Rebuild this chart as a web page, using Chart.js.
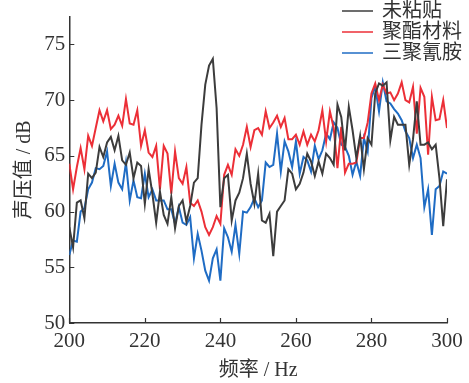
<!DOCTYPE html>
<html>
<head>
<meta charset="utf-8">
<script src="https://cdn.jsdelivr.net/npm/chart.js@4/dist/chart.umd.min.js"></script>
<style>
  html, body { margin: 0; padding: 0; background: #fff; }
  #wrap { width: 469px; height: 383px; }
</style>
</head>
<body>
<div id="wrap"><canvas id="chart" width="469" height="383"></canvas></div>
<script>
// frequency (Hz)
const freq = [
  200,201,202,203,204,205,206,207,208,209,
  210,211,212,213,214,215,216,217,218,219,
  220,221,222,223,224,225,226,227,228,229,
  230,231,232,233,234,235,236,237,238,239,
  240,241,242,243,244,245,246,247,248,249,
  250,251,252,253,254,255,256,257,258,259,
  260,261,262,263,264,265,266,267,268,269,
  270,271,272,273,274,275,276,277,278,279,
  280,281,282,283,284,285,286,287,288,289,
  290,291,292,293,294,295,296,297,298,299,
  300
];

const seriesNames = ["未粘贴", "聚酯材料", "三聚氰胺"];

// 未粘贴
const bare = [
  58.6,56.8,60.8,61.0,59.4,63.4,63.0,63.5,65.8,64.9,
  66.2,66.7,65.5,66.8,64.6,64.2,65.3,63.0,64.4,64.1,
  60.7,63.8,61.6,59.0,61.8,59.7,58.9,61.3,58.5,60.5,
  61.0,59.1,60.5,62.6,63.0,67.8,71.4,73.1,73.7,69.3,
  60.4,63.0,63.3,59.2,61.0,61.7,63.0,65.2,62.5,60.7,
  63.4,59.2,59.0,59.8,56.0,60.0,60.5,61.0,63.8,63.4,
  62.0,62.5,63.5,65.2,64.5,63.2,64.5,63.4,65.2,64.8,
  64.2,69.6,68.5,65.5,69.4,67.3,64.8,66.8,63.8,66.6,
  66.0,70.6,71.5,71.3,71.6,66.4,68.5,67.8,67.8,67.8,
  64.2,66.5,69.9,66.0,66.0,66.2,65.6,66.0,63.0,58.7,
  62.9
];

// 聚酯材料
const polyester = [
  64.3,62.0,64.0,65.7,63.8,66.8,65.9,67.5,69.1,68.1,
  69.1,67.4,67.8,68.6,67.7,70.1,67.9,67.8,69.1,65.9,
  67.3,65.3,64.9,65.9,62.0,65.9,65.2,61.6,65.4,63.0,
  62.5,64.0,60.8,60.5,61.0,60.0,58.6,57.9,58.6,59.6,
  58.9,63.3,64.2,63.3,65.6,65.0,66.0,67.6,65.8,67.3,
  67.5,66.9,69.0,67.5,68.0,68.6,67.6,68.4,66.5,66.5,
  66.9,66.0,67.2,66.0,66.9,66.3,67.3,69.1,66.3,69.0,
  67.5,63.9,67.6,63.5,64.3,64.3,64.4,66.6,66.6,68.0,
  70.6,71.5,70.0,71.4,70.6,70.7,70.0,70.6,71.6,70.0,
  69.8,71.2,67.0,71.1,70.3,65.1,70.3,68.2,68.3,70.0,
  67.5
];

// 三聚氰胺
const melamine = [
  56.1,57.4,57.3,60.0,60.3,62.0,62.6,63.9,63.8,64.1,
  65.4,62.3,64.3,62.6,62.0,64.4,61.0,62.8,61.3,61.2,
  63.4,61.3,62.0,61.0,61.0,61.0,60.2,60.2,58.9,60.4,
  59.0,58.8,59.5,55.8,58.0,56.5,54.7,53.8,55.8,56.6,
  53.8,58.5,57.7,56.4,58.8,56.2,60.0,59.9,60.4,61.2,
  60.4,61.0,64.4,64.0,64.2,67.0,63.6,66.3,65.4,64.0,
  66.3,63.4,64.9,64.6,63.6,65.9,64.7,65.5,67.0,66.5,
  68.0,67.5,66.0,65.8,65.0,63.3,64.5,63.2,66.6,65.4,
  70.2,71.2,69.0,71.6,69.9,69.7,69.2,68.8,68.2,67.2,
  66.6,64.8,66.0,64.8,60.4,62.0,57.9,62.0,62.3,63.6,
  63.4
];

const xTicks = [200, 220, 240, 260, 280, 300];
const yTicks = [50, 55, 60, 65, 70, 75];

const colors = ["#3c3c3c", "#ec2f37", "#1f6cc4"];

const FONT = '"Liberation Serif", "Noto Sans CJK SC", serif';
Chart.defaults.font.family = FONT;
Chart.defaults.color = "#333";

const toPoints = vals => vals.map((v, i) => ({ x: freq[i], y: v }));

// inward tick marks + legend in the top-right corner
const decor = {
  id: "decor",
  afterDraw(chart) {
    const ctx = chart.ctx;
    const xs = chart.scales.x, ys = chart.scales.y;
    const area = chart.chartArea;
    ctx.save();
    ctx.strokeStyle = "#333";
    ctx.lineWidth = 1.2;
    ctx.beginPath();
    xTicks.forEach(v => {
      const px = Math.round(xs.getPixelForValue(v)) + 0.5;
      ctx.moveTo(px, area.bottom);
      ctx.lineTo(px, area.bottom - 5);
    });
    yTicks.forEach(v => {
      const py = Math.round(ys.getPixelForValue(v)) + 0.5;
      ctx.moveTo(area.left, py);
      ctx.lineTo(area.left + 5, py);
    });
    ctx.stroke();

    ctx.font = "20px " + FONT;
    ctx.textBaseline = "middle";
    ctx.textAlign = "left";
    chart.data.datasets.forEach((ds, i) => {
      const y = 11 + i * 21;
      ctx.strokeStyle = ds.borderColor;
      ctx.lineWidth = 1.5;
      ctx.beginPath();
      ctx.moveTo(342, y);
      ctx.lineTo(373, y);
      ctx.stroke();
      ctx.fillStyle = "#333";
      ctx.fillText(ds.label, 382, y + 1);
    });
    ctx.restore();
  }
};

new Chart(
  document.getElementById("chart"),
  {
    type: "line",
    data: {
      datasets: [
        { label: seriesNames[0], data: toPoints(bare), borderColor: colors[0] },
        { label: seriesNames[1], data: toPoints(polyester), borderColor: colors[1] },
        { label: seriesNames[2], data: toPoints(melamine), borderColor: colors[2] }
      ]
    },
    options: {
      responsive: false,
      animation: false,
      layout: { padding: { top: 13.5, right: 22, left: 0, bottom: 0 } },
      elements: {
        line: { borderWidth: 2, tension: 0 },
        point: { radius: 0 }
      },
      plugins: { legend: { display: false }, tooltip: { enabled: false } },
      scales: {
        x: {
          type: "linear",
          min: 200,
          max: 300,
          afterBuildTicks: s => { s.ticks = xTicks.map(v => ({ value: v })); },
          afterFit: s => { s.height = 60; },
          grid: { display: false, drawTicks: false },
          border: { display: true, color: "#333", width: 1.5 },
          ticks: { font: { size: 21 }, padding: 6, maxRotation: 0, color: "#333" },
          title: { display: true, text: "频率 / Hz", font: { size: 20 }, padding: { top: 0, bottom: 0 }, color: "#333" }
        },
        y: {
          min: 50,
          max: 77.5,
          afterBuildTicks: s => { s.ticks = yTicks.map(v => ({ value: v })); },
          afterFit: s => { s.width = 69.3; },
          grid: { display: false, drawTicks: false },
          border: { display: true, color: "#333", width: 1.5 },
          ticks: { font: { size: 21 }, padding: 4, color: "#333" },
          title: { display: true, text: "声压值 / dB", font: { size: 20 }, padding: { top: 13, bottom: 0 }, color: "#333" }
        }
      }
    },
    plugins: [decor]
  }
);
</script>
</body>
</html>
